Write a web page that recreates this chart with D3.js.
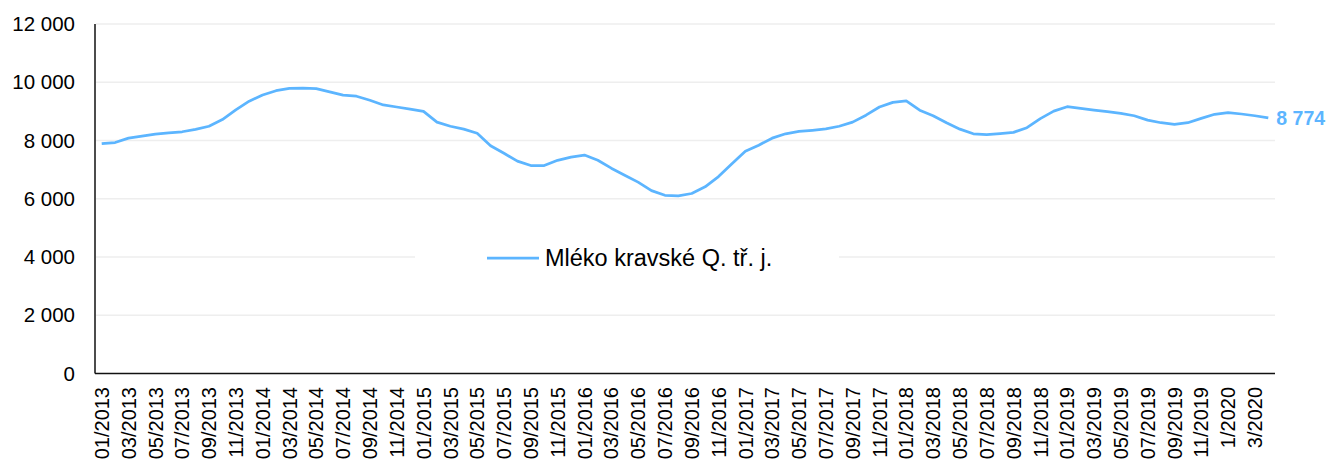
<!DOCTYPE html>
<html>
<head>
<meta charset="utf-8">
<script src="https://cdn.jsdelivr.net/npm/d3@7"></script>
<style>
  body { margin: 0; background: #fff; }
  svg { display: block; font-family: "Liberation Sans", Arial, sans-serif; }
</style>
</head>
<body>
<div id="chart"></div>
<script>
// mesice (kategorie osy x)
const months = [
  "01/2013","02/2013","03/2013","04/2013","05/2013","06/2013","07/2013","08/2013","09/2013","10/2013","11/2013","12/2013",
  "01/2014","02/2014","03/2014","04/2014","05/2014","06/2014","07/2014","08/2014","09/2014","10/2014","11/2014","12/2014",
  "01/2015","02/2015","03/2015","04/2015","05/2015","06/2015","07/2015","08/2015","09/2015","10/2015","11/2015","12/2015",
  "01/2016","02/2016","03/2016","04/2016","05/2016","06/2016","07/2016","08/2016","09/2016","10/2016","11/2016","12/2016",
  "01/2017","02/2017","03/2017","04/2017","05/2017","06/2017","07/2017","08/2017","09/2017","10/2017","11/2017","12/2017",
  "01/2018","02/2018","03/2018","04/2018","05/2018","06/2018","07/2018","08/2018","09/2018","10/2018","11/2018","12/2018",
  "01/2019","02/2019","03/2019","04/2019","05/2019","06/2019","07/2019","08/2019","09/2019","10/2019","11/2019","12/2019",
  "1/2020","2/2020","3/2020","4/2020"
];

// Mléko kravské Q. tř. j.
const milk = [
  7890, 7930, 8080, 8150, 8220, 8260, 8300, 8380, 8490, 8720, 9050, 9350,
  9560, 9710, 9790, 9800, 9780, 9670, 9560, 9520, 9380, 9220, 9150, 9080,
  9000, 8630, 8490, 8390, 8250, 7820, 7560, 7290, 7140, 7140, 7320, 7430,
  7500, 7320, 7050, 6810, 6570, 6280, 6120, 6100, 6180, 6410, 6760, 7200,
  7630, 7840, 8080, 8230, 8310, 8350, 8400, 8490, 8630, 8870, 9150, 9310,
  9360, 9040, 8850, 8610, 8390, 8230, 8200, 8240, 8280, 8440, 8750, 9010,
  9160, 9100, 9040, 8990, 8930, 8850, 8700, 8610, 8550, 8610, 8760, 8900,
  8960, 8910, 8850, 8774
];

const yTicks = [0, 2000, 4000, 6000, 8000, 10000, 12000];
const seriesName = "Mléko kravské Q. tř. j.";

const width = 1330,
  height = 462;
const plot = { left: 95, right: 1275, top: 24, bottom: 373.5 };
const lineColor = "#5cb5ff";

const svg = d3
  .select("#chart")
  .append("svg")
  .attr("width", width)
  .attr("height", height);

const x = d3.scaleBand().domain(months).range([plot.left, plot.right]).padding(0);
const y = d3.scaleLinear().domain([0, 12000]).range([plot.bottom, plot.top]);
const cx = (m) => x(m) + x.bandwidth() / 2;

const fmt = (v) => d3.format(",")(v).replace(/,/g, " ");

// mrizka
svg
  .append("g")
  .selectAll("line")
  .data(yTicks.filter((t) => t > 0))
  .join("line")
  .attr("x1", plot.left + 1)
  .attr("x2", plot.right)
  .attr("y1", (d) => y(d))
  .attr("y2", (d) => y(d))
  .style("stroke", "#eeeeee")
  .style("stroke-width", 1.5);

// popisky osy y
const yAxis = svg
  .append("g")
  .attr("transform", `translate(${plot.left},0)`)
  .call(d3.axisLeft(y).tickValues(yTicks).tickFormat(fmt).tickSize(0).tickPadding(20));
yAxis.select(".domain").remove();
yAxis
  .selectAll("text")
  .style("font-size", "20.5px")
  .style("fill", "#000")
  .style("font-family", "'Liberation Sans', Arial, sans-serif");

// osy
svg
  .append("line")
  .attr("x1", plot.left)
  .attr("x2", plot.left)
  .attr("y1", plot.top)
  .attr("y2", plot.bottom)
  .style("stroke", "#111")
  .style("stroke-width", 1.5);
svg
  .append("line")
  .attr("x1", plot.left)
  .attr("x2", plot.right)
  .attr("y1", plot.bottom)
  .attr("y2", plot.bottom)
  .style("stroke", "#111")
  .style("stroke-width", 1.5);

// popisky osy x (kazdy druhy mesic)
svg
  .append("g")
  .selectAll("text")
  .data(months.filter((m, i) => i % 2 === 0))
  .join("text")
  .attr("transform", "rotate(-90)")
  .attr("x", -387)
  .attr("y", (d) => cx(d))
  .attr("dy", "0.36em")
  .style("text-anchor", "end")
  .style("font-size", "20px")
  .style("fill", "#000")
  .text((d) => d);

// legenda
const legend = svg.append("g").attr("transform", `translate(0, ${y(4000)})`);
legend
  .append("rect")
  .attr("x", 415)
  .attr("y", -14)
  .attr("width", 424)
  .attr("height", 28)
  .style("fill", "#fff");
legend
  .append("line")
  .attr("x1", 487)
  .attr("x2", 539)
  .attr("y1", 1)
  .attr("y2", 1)
  .style("stroke", lineColor)
  .style("stroke-width", 2.75);
legend
  .append("text")
  .attr("x", 545)
  .attr("y", 1)
  .attr("dy", "0.35em")
  .style("font-size", "23.5px")
  .style("fill", "#000")
  .text(seriesName);

// krivka
const line = d3
  .line()
  .x((d, i) => cx(months[i]))
  .y((d) => y(d));

svg
  .append("path")
  .datum(milk)
  .attr("d", line)
  .style("fill", "none")
  .style("stroke", lineColor)
  .style("stroke-width", 2.75)
  .style("stroke-linejoin", "round");

// posledni hodnota
const last = milk.length - 1;
svg
  .append("text")
  .attr("x", cx(months[last]) + 8)
  .attr("y", y(milk[last]))
  .attr("dy", "0.36em")
  .style("font-size", "19.5px")
  .style("font-weight", "bold")
  .style("fill", lineColor)
  .text(fmt(milk[last]));
</script>
</body>
</html>
